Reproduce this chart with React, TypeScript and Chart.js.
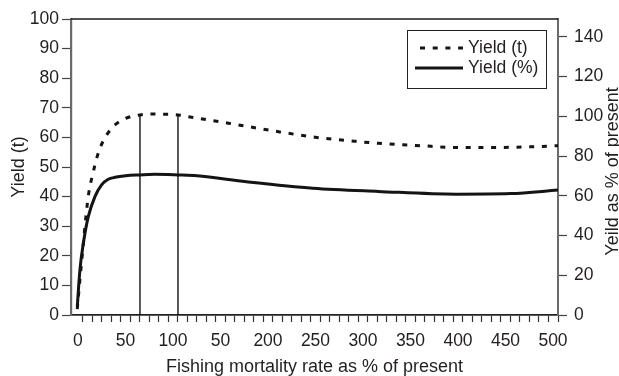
import React, { useEffect, useRef } from 'react';
import { Chart, registerables } from 'chart.js';

Chart.register(...registerables);

// ---- data ----
const rateDashed = [-6, -3.2, -0.5, 3, 6, 10.9, 14.4, 18.6, 24.9, 33.7, 44.9, 60, 75, 90, 100, 111, 153, 206, 246, 286, 311, 355, 395, 435, 470, 500];
const yieldTonnes = [2, 12, 21, 33, 41, 48.4, 52.9, 56.9, 60.8, 64.2, 66.4, 67.6, 67.9, 67.8, 67.6, 67, 64.8, 61.9, 60, 58.7, 58, 57.2, 56.6, 56.6, 56.8, 57.2];

const rateSolid = [-6, -3.2, 0.4, 5.6, 12.6, 19.6, 26.6, 33.7, 45, 60, 75, 100, 120, 172, 242, 311, 393, 450, 500];
const yieldPercent = [4.2, 22.7, 36.1, 49.5, 59.6, 65.5, 68.3, 69.3, 70.1, 70.5, 70.8, 70.5, 70.1, 67.1, 63.8, 62.2, 60.8, 61.1, 62.9];

const markerRates = [60, 100];
const markerTops = [67.6, 67.6];

const xLabelValues = [0, 50, 100, 150, 200, 250, 300, 350, 400, 450, 500];
const xLabelTexts = ['0', '50', '100', '50', '200', '250', '300', '350', '400', '450', '500'];
const xMinorStep = 10;
const leftTicks = [0, 10, 20, 30, 40, 50, 60, 70, 80, 90, 100];
const rightTicks = [0, 20, 40, 60, 80, 100, 120, 140];

const seriesLabels = ['Yield (t)', 'Yield (%)'];
const xTitle = 'Fishing mortality rate as % of present';
const yTitle = 'Yield (t)';
const y1Title = 'Yeild as % of present';

const FONT = '"Liberation Sans", Arial, Helvetica, sans-serif';
const TEXT = '#231f20';
const DASH = [5, 7.7];

const framePlugin = {
  id: 'frameLegend',
  afterDraw(chart: any) {
    const { ctx, chartArea } = chart;
    ctx.save();
    // top frame line
    ctx.strokeStyle = '#1a1a1a';
    ctx.lineWidth = 1.5;
    ctx.beginPath();
    ctx.moveTo(chartArea.left, chartArea.top);
    ctx.lineTo(chartArea.right, chartArea.top);
    ctx.stroke();

    // right axis title, reading bottom to top
    ctx.fillStyle = TEXT;
    ctx.font = `18px ${FONT}`;
    ctx.textAlign = 'center';
    ctx.textBaseline = 'middle';
    ctx.translate(chart.width - 5.6, (chartArea.top + chartArea.bottom) / 2 + 4.5);
    ctx.rotate(-Math.PI / 2);
    ctx.fillText(y1Title, 0, 0);
    ctx.restore();

    // legend box
    ctx.save();
    const bw = 139, bh = 58;
    const bx = chartArea.right - 12 - bw;
    const by = chartArea.top + 11;
    ctx.fillStyle = '#fff';
    ctx.fillRect(bx, by, bw, bh);
    ctx.strokeStyle = '#222';
    ctx.lineWidth = 1;
    ctx.strokeRect(bx + 0.5, by + 0.5, bw, bh);
    const rows = [
      { y: by + 18, x0: bx + 13, dash: DASH },
      { y: by + 38, x0: bx + 8, dash: [] as number[] },
    ];
    rows.forEach((r, i) => {
      const ds = chart.data.datasets[i];
      ctx.strokeStyle = ds.borderColor;
      ctx.lineWidth = ds.borderWidth;
      ctx.lineCap = 'butt';
      ctx.setLineDash(r.dash);
      ctx.beginPath();
      ctx.moveTo(r.x0, r.y);
      ctx.lineTo(bx + 56, r.y);
      ctx.stroke();
      ctx.setLineDash([]);
      ctx.fillStyle = TEXT;
      ctx.font = `17.5px ${FONT}`;
      ctx.textAlign = 'left';
      ctx.textBaseline = 'middle';
      ctx.fillText(ds.label, bx + 61, r.y);
    });
    ctx.restore();
  },
};

export default function App() {
  const ref = useRef<HTMLCanvasElement | null>(null);
  useEffect(() => {
    if (!ref.current) return;
    const minorValues: number[] = [];
    for (let v = 0; v <= 500; v += xMinorStep) minorValues.push(v);
    const chart = new Chart(ref.current, {
      type: 'line',
      data: {
        datasets: [
          {
            label: seriesLabels[0],
            data: rateDashed.map((x, i) => ({ x, y: yieldTonnes[i] })),
            borderColor: '#141414',
            borderWidth: 3,
            borderDash: DASH,
            borderCapStyle: 'butt',
            pointRadius: 0,
            cubicInterpolationMode: 'monotone',
            yAxisID: 'y',
          },
          {
            label: seriesLabels[1],
            data: rateSolid.map((x, i) => ({ x, y: yieldPercent[i] })),
            borderColor: '#141414',
            borderWidth: 3,
            pointRadius: 0,
            cubicInterpolationMode: 'monotone',
            yAxisID: 'y1',
          },
          ...markerRates.map((r, i) => ({
            label: 'marker' + i,
            data: [{ x: r, y: 0 }, { x: r, y: markerTops[i] }],
            borderColor: '#000',
            borderWidth: 1.3,
            pointRadius: 0,
            yAxisID: 'y',
          })),
        ],
      } as any,
      options: {
        responsive: false,
        animation: false,
        layout: { padding: { top: 19, left: 0, right: 0, bottom: 0 } },
        plugins: { legend: { display: false }, tooltip: { enabled: false } },
        scales: {
          x: {
            type: 'linear',
            position: 'bottom',
            min: -12.6,
            max: 500,
            afterBuildTicks: (s: any) => {
              s.ticks = minorValues.map((v) => ({ value: v }));
            },
            afterFit: (s: any) => {
              s.height = 61;
            },
            ticks: {
              autoSkip: false,
              maxRotation: 0,
              minRotation: 0,
              padding: 8.5,
              labelOffset: -5,
              color: TEXT,
              font: { size: 17.5, family: FONT },
              callback: (v: any) => {
                const k = xLabelValues.indexOf(Number(v));
                return k >= 0 ? xLabelTexts[k] : '';
              },
            },
            grid: { drawOnChartArea: false, drawTicks: true, tickLength: 7, tickColor: '#333', tickWidth: 1.2 },
            border: { display: true, color: '#222', width: 1.8 },
            title: {
              display: true,
              text: xTitle,
              color: TEXT,
              font: { size: 18, family: FONT, lineHeight: 1 },
              padding: { top: 0, bottom: 0 },
            },
          },
          y: {
            type: 'linear',
            position: 'left',
            min: 0,
            max: 100,
            afterBuildTicks: (s: any) => {
              s.ticks = leftTicks.map((v) => ({ value: v }));
            },
            afterFit: (s: any) => {
              s.width = 71;
            },
            ticks: { padding: 3, color: TEXT, font: { size: 17.5, family: FONT } },
            grid: { drawOnChartArea: false, drawTicks: true, tickLength: 9, tickColor: '#444', tickWidth: 1.2 },
            border: { display: true, color: '#6a6a6a', width: 2.2 },
            title: {
              display: true,
              text: yTitle,
              color: TEXT,
              font: { size: 18, family: FONT, lineHeight: 1 },
              padding: { top: 10, bottom: 0 },
            },
          },
          y1: {
            type: 'linear',
            position: 'right',
            min: 0,
            max: 149,
            afterBuildTicks: (s: any) => {
              s.ticks = rightTicks.map((v) => ({ value: v }));
            },
            afterFit: (s: any) => {
              s.width = 61;
            },
            ticks: { padding: 7, color: TEXT, font: { size: 17.5, family: FONT } },
            grid: { drawOnChartArea: false, drawTicks: true, tickLength: 9, tickColor: '#444', tickWidth: 1.2 },
            border: { display: true, color: '#6a6a6a', width: 2 },
            title: { display: false },
          },
        },
      } as any,
      plugins: [framePlugin],
    });
    return () => chart.destroy();
  }, []);

  return (
    <div style={{ position: 'absolute', left: 0, top: 0, width: 619, height: 376, background: '#fff' }}>
      <canvas ref={ref} width={619} height={376} style={{ display: 'block' }} />
    </div>
  );
}
